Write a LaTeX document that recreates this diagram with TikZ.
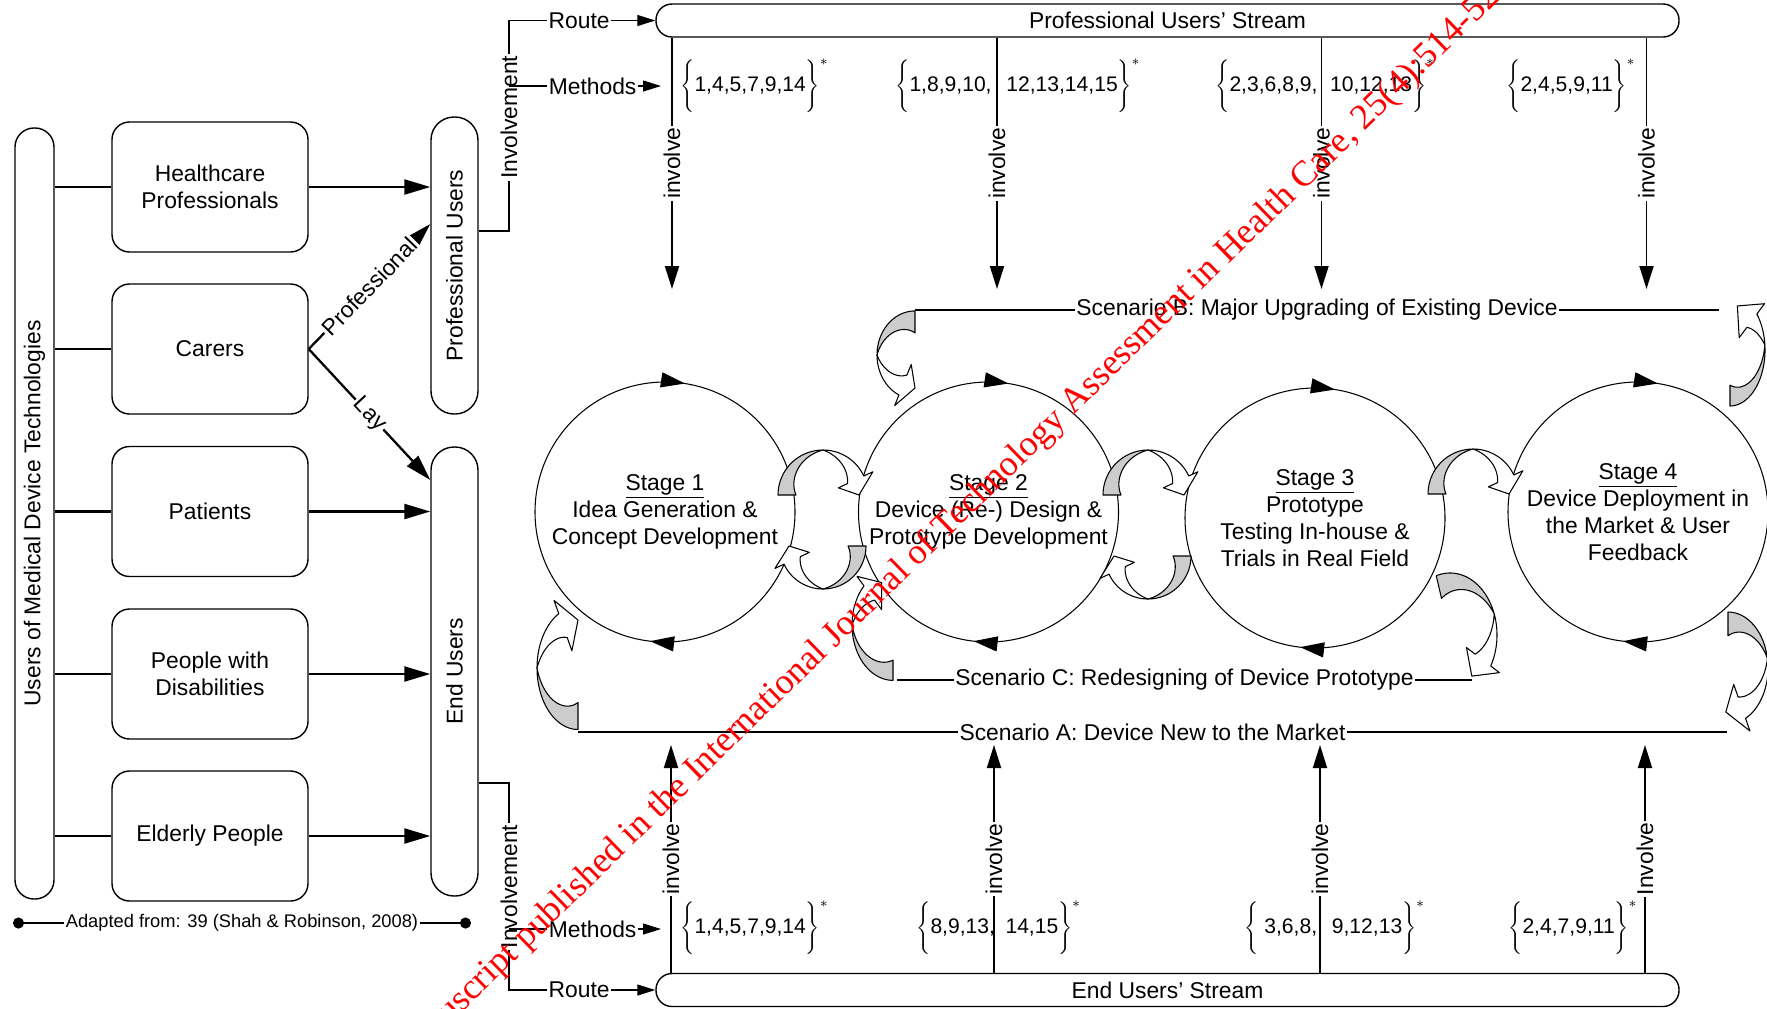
\documentclass[tikz,border=0pt]{standalone}
\usepackage{fontspec}
\setmainfont{Liberation Sans}
\newfontfamily\wmfont{Liberation Serif}
\usetikzlibrary{arrows.meta, calc, decorations.markings}
\definecolor{rbGray}{HTML}{CCCCCC}
\definecolor{wmRed}{HTML}{FF0000}

% twisted ribbon arrow: centre x, centre y, y-stretch, inner r, outer r,
% tail angle, twist angle, head angle, tip angle
\newcommand{\ribbon}[9]{%
  \filldraw[ribbon, fill=rbGray]
    plot[domain=#6:#7] ({#1+#5*cos(\x)}, {#2+#3*#5*sin(\x)})
    -- plot[domain=#7:#6] ({#1+(#4+(#5-#4)*(\x-(#6))/((#7)-(#6)))*cos(\x)},
                           {#2+#3*(#4+(#5-#4)*(\x-(#6))/((#7)-(#6)))*sin(\x)})
    -- cycle;
  \filldraw[ribbon, fill=white]
    plot[domain=#7:#8] ({#1+#5*cos(\x)}, {#2+#3*#5*sin(\x)})
    -- ({#1+(#5+10)*cos(#8)}, {#2+#3*(#5+10)*sin(#8)})
    -- ({#1+(#4+#5)/2*cos(#9)}, {#2+#3*(#4+#5)/2*sin(#9)})
    -- ({#1+(#4-10)*cos(#8)}, {#2+#3*(#4-10)*sin(#8)})
    -- plot[domain=#8:#7] ({#1+(#4+(#5-#4)*(\x-(#8))/((#7)-(#8)))*cos(\x)},
                           {#2+#3*(#4+(#5-#4)*(\x-(#8))/((#7)-(#8)))*sin(\x)})
    -- cycle;}

\begin{document}
\begin{tikzpicture}[x=0.2mm, y=-0.2mm,
    every node/.style={font=\fontsize{13}{15.5}\selectfont},
    ubox/.style={draw, line width=0.8pt, rounded corners=3.5mm,
                 minimum width=39.2mm, minimum height=26mm, align=center},
    ubar/.style={draw, line width=0.8pt, rotate=90},
    stream/.style={draw, line width=0.8pt, rounded corners=3.2mm,
                   minimum width=204.6mm, minimum height=6.6mm, inner sep=0pt},
    stage/.style={circle, draw, line width=0.6pt, minimum size=52mm,
                  inner sep=0pt, align=center, postaction={decorate},
                  decoration={markings,
                    mark=at position 0.2255 with {\arrowreversed{Triangle[length=4.8mm, width=3mm]}},
                    mark=at position 0.7317 with {\arrowreversed{Triangle[length=4.8mm, width=3mm]}}}},
    lbl/.style={fill=white, inner xsep=1pt, inner ysep=0pt},
    vlbl/.style={lbl, rotate=90},
    mset/.style={anchor=west, inner sep=0pt, font=\fontsize{12}{14}\selectfont},
    link/.style={line width=1.4pt},
    barrow/.style={line width=1.3pt, -{Triangle[length=5.2mm, width=3mm]}},
    invarrow/.style={line width=1.1pt, -{Triangle[length=4.6mm, width=2.8mm]}},
    route/.style={line width=0.6pt, -{Triangle[length=3.6mm, width=2.2mm]}},
    scen/.style={line width=1.4pt},
    ribbon/.style={line width=0.6pt, line join=round},
    wmark/.style={text=wmRed, inner sep=0pt, font=\wmfont\fontsize{20.5}{24}\selectfont}]
  \useasboundingbox (0,0) rectangle (1767,1008);

  % user groups
  \node[ubar, minimum width=154.2mm, minimum height=7.8mm, rounded corners=3.8mm]
    (users) at (34.5,513.5) {Users of Medical Device Technologies};
  \node[ubox] (hcp)    at (210,187)   {Healthcare\\Professionals};
  \node[ubox] (carers) at (210,349)   {Carers};
  \node[ubox] (pat)    at (210,511.5) {Patients};
  \node[ubox] (pwd)    at (210,674)   {People with\\Disabilities};
  \node[ubox] (eld)    at (210,836)   {Elderly People};
  \node[ubar, minimum width=59.4mm, minimum height=9.4mm, rounded corners=4.6mm]
    (profusers) at (454.5,265.5) {Professional Users};
  \node[ubar, minimum width=89.8mm, minimum height=9.4mm, rounded corners=4.6mm]
    (endusers) at (454.5,671.5) {End Users};

  \foreach \b in {hcp,carers,pat,pwd,eld}
    \draw[link] (users.south |- \b.west) -- (\b.west);
  \draw[barrow] (hcp.east) -- (profusers.north |- hcp.east);
  \foreach \b in {pat,pwd,eld}
    \draw[barrow] (\b.east) -- (endusers.north |- \b.east);
  \draw[barrow] (carers.east) -- node[lbl, sloped] {Professional} ($(profusers.north)+(0,-41.5)$);
  \draw[barrow] (carers.east) -- node[lbl, sloped] {Lay} ($(endusers.north)+(0,-191.5)$);

  \coordinate (adl) at (13,923);
  \coordinate (adr) at (471,923);
  \draw[line width=1.2pt, {Circle[length=2.2mm]}-{Circle[length=2.2mm]}] (adl) --
    node[lbl, font=\fontsize{10.4}{12}\selectfont] {Adapted from: 39 (Shah \& Robinson, 2008)} (adr);

  % streams
  \node[stream] (profstream) at (1167.5,20.5) {Professional Users' Stream};
  \node[stream] (endstream)  at (1167.5,990)  {End Users' Stream};

  \coordinate (pinv) at (509,231);
  \coordinate (pmeth) at (509,86);
  \coordinate (pmethend) at (661,86);
  \draw[route] (profusers.south |- pinv) -- (pinv) |- node[vlbl, pos=0.27] {Involvement}
    node[lbl, pos=0.74] {Route} (profstream.west);
  \draw[route] (pmeth) -- node[lbl, pos=0.55] {Methods} (pmethend);

  \coordinate (einv) at (509,783);
  \coordinate (emeth) at (509,929);
  \coordinate (emethend) at (661,929);
  \draw[route] (endusers.south |- einv) -- (einv) |- node[vlbl, pos=0.25] {Involvement}
    node[lbl, pos=0.74] {Route} (endstream.west);
  \draw[route] (emeth) -- node[lbl, pos=0.55] {Methods} (emethend);

  \foreach \x [count=\i] in {672,997,1321.5,1646.5}{
    \coordinate (ptop\i) at (\x,289);
    \draw[invarrow] (\x,0 |- profstream.south) -- node[vlbl] {involve} (ptop\i);
  }
  \foreach \x/\t [count=\i] in {671/involve,994/involve,1320/involve,1645/Involve}{
    \coordinate (pbot\i) at (\x,745);
    \draw[invarrow] (\x,0 |- endstream.north) -- node[vlbl] {\t} (pbot\i);
  }

  % method sets
  \node[mset] (mt1) at (680,86)  {\(\Bigg\{\)1,4,5,7,9,14\(\Bigg\}^{*}\)};
  \node[mset] (mt2) at (895,86)  {\(\Bigg\{\)1,8,9,10,\hspace{0.7em}12,13,14,15\(\Bigg\}^{*}\)};
  \node[mset] (mt3) at (1215,86) {\(\Bigg\{\)2,3,6,8,9,\hspace{0.6em}10,12,13\(\Bigg\}^{*}\)};
  \node[mset] (mt4) at (1506,86) {\(\Bigg\{\)2,4,5,9,11\(\Bigg\}^{*}\)};
  \node[mset] (mb1) at (680,928)  {\(\Bigg\{\)1,4,5,7,9,14\(\Bigg\}^{*}\)};
  \node[mset] (mb2) at (916,928)  {\(\Bigg\{\)8,9,13,\hspace{0.5em}14,15\(\Bigg\}^{*}\)};
  \node[mset] (mb3) at (1244,928) {\(\Bigg\{\) 3,6,8,\hspace{0.7em}9,12,13\(\Bigg\}^{*}\)};
  \node[mset] (mb4) at (1508,928) {\(\Bigg\{\)2,4,7,9,11\(\Bigg\}^{*}\)};

  % stages
  \node[stage] (s1) at (665,512)   {\underline{Stage 1}\\Idea Generation \&\\Concept Development};
  \node[stage] (s2) at (988.5,512) {\underline{Stage 2}\\Device (Re-) Design \&\\Prototype Development};
  \node[stage] (s3) at (1315,518)  {\underline{Stage 3}\\Prototype\\Testing In-house \&\\Trials in Real Field};
  \node[stage] (s4) at (1638,512)  {\underline{Stage 4}\\Device Deployment in\\the Market \& User\\Feedback};

  % scenarios
  \coordinate (scBl) at (915,310);
  \coordinate (scBr) at (1719,310);
  \draw[scen] (scBl) -- node[lbl] {Scenario B: Major Upgrading of Existing Device} (scBr);
  \coordinate (scCl) at (897,680);
  \coordinate (scCr) at (1472,680);
  \draw[scen] (scCl) -- node[lbl] {Scenario C: Redesigning of Device Prototype} (scCr);
  \coordinate (scAl) at (578,732);
  \coordinate (scAr) at (1727,732);
  \draw[scen] (scAl) -- node[lbl] {Scenario A: Device New to the Market} (scAr);

  % ribbon arrows
  \ribbon{823}{495}{1}{27}{45}{180}{270}{335}{360}
  \ribbon{823}{546}{1}{25}{43}{0}{90}{155}{180}
  \ribbon{1148}{495}{1}{27}{45}{180}{270}{335}{360}
  \ribbon{1148}{556}{1}{25}{43}{0}{90}{155}{180}
  \ribbon{1473}{494}{1}{27}{45}{180}{270}{335}{360}
  \ribbon{1450}{635}{1.32}{29}{47}{253}{340}{390}{415}
  \ribbon{1728}{668}{1.4}{23}{40}{270}{350}{424}{454}
  \ribbon{1730}{350}{1.6}{22}{35}{90}{-5}{-40}{-75}
  \ribbon{915}{355}{1.16}{19}{38}{270}{180}{115}{90}
  \ribbon{578}{668}{1.5}{23}{41}{90}{180}{242}{270}
  \ribbon{893}{625}{1.35}{26}{41}{90}{180}{225}{250}

  % watermark
  \node[wmark, rotate=44.3, anchor=base west] (wm) at (402,1071)
    {Manuscript published in the International Journal of Technology Assessment in Health Care, 25(4):514-521};
\end{tikzpicture}
\end{document}
